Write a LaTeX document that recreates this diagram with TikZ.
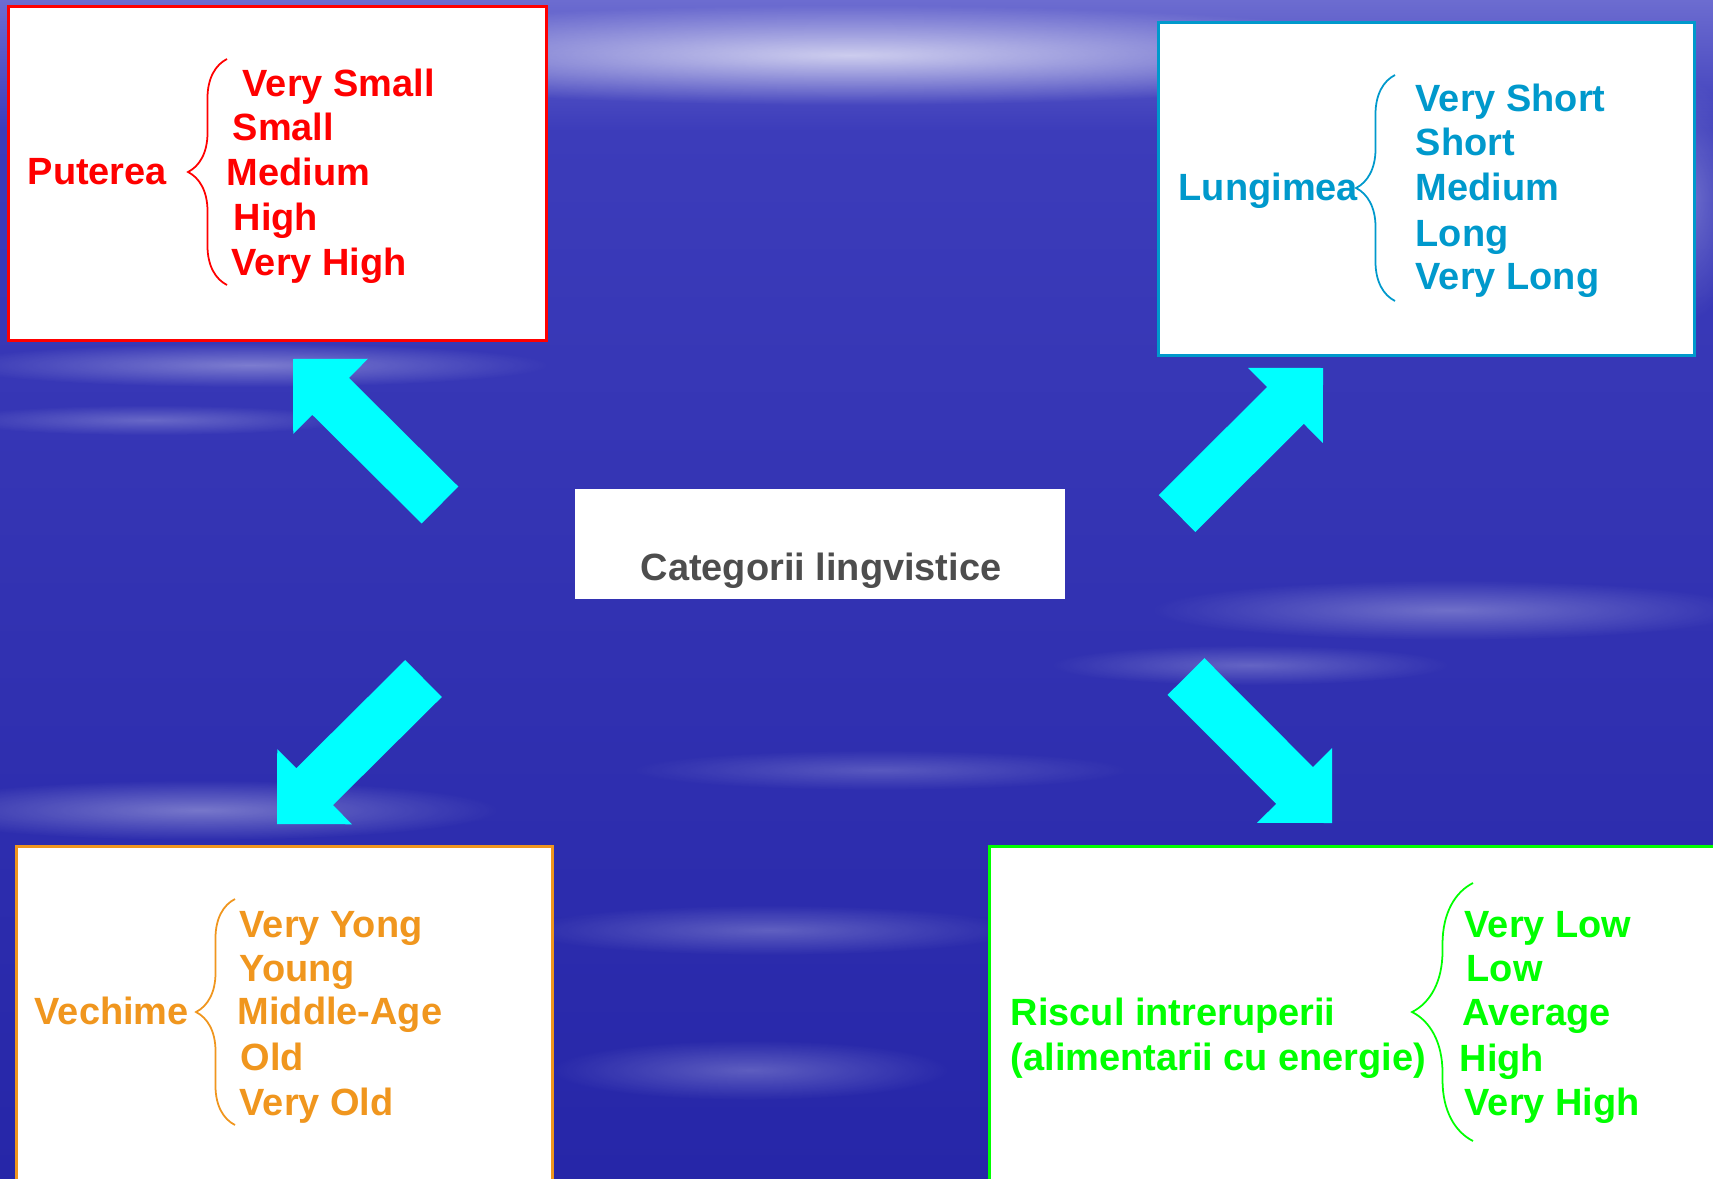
\documentclass[tikz,border=0pt]{standalone}
\usepackage{fontspec}
\setmainfont{Liberation Sans}
\usepackage{tikz}
\usetikzlibrary{calc, decorations.pathreplacing, fadings}
\usepackage{xcolor}
\definecolor{putcol}{RGB}{255,0,0}
\definecolor{lungcol}{RGB}{0,153,204}
\definecolor{vechcol}{RGB}{240,150,30}
\definecolor{riscol}{RGB}{0,255,0}
\definecolor{catgray}{RGB}{77,77,77}
\definecolor{arrowcyan}{RGB}{0,255,255}
\definecolor{bgtop}{RGB}{108,108,208}
\definecolor{bgupper}{RGB}{60,60,186}
\definecolor{bgmid}{RGB}{46,46,176}
\definecolor{bgbot}{RGB}{38,38,168}
\tikzfading[name=softglow, inner color=transparent!0, outer color=transparent!100]

\begin{document}
\begin{tikzpicture}[
    catbox/.style={rectangle, draw, fill=white, line width=0.8pt, anchor=north west, inner sep=0pt},
    term/.style={anchor=base west, inner sep=0pt, font=\fontsize{10.8}{13}\selectfont\bfseries},
    bracket/.style={decorate, line width=0.5pt},
    fatarrow/.style={fill=arrowcyan},
    streak/.style={white, path fading=softglow}
]
    \useasboundingbox (0,0) rectangle (17.13,-11.78);
    \clip (0,0) rectangle (17.13,-11.78);

    % Background
    \shade[top color=bgupper, middle color=bgmid, bottom color=bgbot] (0,-1.3) rectangle (17.13,-11.78);
    \shade[top color=bgtop, bottom color=bgupper] (0,0) rectangle (17.13,-1.31);
    \fill[streak, opacity=0.7] (8.5,-0.55) ellipse (6 and 0.5);
    \fill[streak, opacity=0.25] (16.9,-2.0) ellipse (0.5 and 1.2);
    \fill[streak, opacity=0.35] (2.5,-3.65) ellipse (3 and 0.22);
    \fill[streak, opacity=0.25] (1.5,-4.2) ellipse (2 and 0.15);
    \fill[streak, opacity=0.3] (14.5,-6.1) ellipse (3 and 0.3);
    \fill[streak, opacity=0.25] (12.5,-6.65) ellipse (2 and 0.2);
    \fill[streak, opacity=0.2] (8.8,-7.7) ellipse (2.5 and 0.2);
    \fill[streak, opacity=0.35] (2,-8.1) ellipse (3 and 0.3);
    \fill[streak, opacity=0.25] (7.7,-9.3) ellipse (2.5 and 0.25);
    \fill[streak, opacity=0.25] (7.5,-10.7) ellipse (2 and 0.3);

    % Boxes
    \node[catbox, draw=putcol, minimum width=5.38cm, minimum height=3.34cm] (putbox) at (0.07,-0.05) {};
    \node[catbox, draw=lungcol, minimum width=5.36cm, minimum height=3.33cm] (lungbox) at (11.57,-0.21) {};
    \node[catbox, draw=vechcol, minimum width=5.36cm, minimum height=3.6cm] (vechbox) at (0.15,-8.45) {};
    \node[catbox, draw=riscol, minimum width=7.5cm, minimum height=3.6cm] (riscbox) at (9.88,-8.45) {};
    \node[catbox, draw=none, minimum width=4.90cm, minimum height=1.10cm] (catbox) at (5.74,-4.88) {};

    % Centre title
    \node[term, text=catgray] (cattitle) at (6.40,-5.80) {Categorii lingvistice};

    % Puterea
    \node[term, text=putcol] (putname) at (0.27,-1.84) {Puterea};
    \node[term, text=putcol] (put1) at (2.42,-0.97) {Very Small};
    \node[term, text=putcol] (put2) at (2.32,-1.41) {Small};
    \node[term, text=putcol] (put3) at (2.26,-1.85) {Medium};
    \node[term, text=putcol] (put4) at (2.33,-2.30) {High};
    \node[term, text=putcol] (put5) at (2.31,-2.75) {Very High};
    \draw[bracket, draw=putcol, decoration={brace, amplitude=0.39cm}] (2.27,-2.85) -- (2.27,-0.59);

    % Lungimea
    \node[term, text=lungcol] (lungname) at (11.78,-2.00) {Lungimea};
    \node[term, text=lungcol] (lung1) at (14.15,-1.12) {Very Short};
    \node[term, text=lungcol] (lung2) at (14.15,-1.56) {Short};
    \node[term, text=lungcol] (lung3) at (14.15,-2.00) {Medium};
    \node[term, text=lungcol] (lung4) at (14.15,-2.46) {Long};
    \node[term, text=lungcol] (lung5) at (14.15,-2.89) {Very Long};
    \draw[bracket, draw=lungcol, decoration={brace, amplitude=0.39cm}] (13.95,-3.01) -- (13.95,-0.75);

    % Vechime
    \node[term, text=vechcol] (vechname) at (0.34,-10.24) {Vechime};
    \node[term, text=vechcol] (vech1) at (2.39,-9.37) {Very Yong};
    \node[term, text=vechcol] (vech2) at (2.39,-9.81) {Young};
    \node[term, text=vechcol] (vech3) at (2.37,-10.24) {Middle-Age};
    \node[term, text=vechcol] (vech4) at (2.40,-10.70) {Old};
    \node[term, text=vechcol] (vech5) at (2.39,-11.15) {Very Old};
    \draw[bracket, draw=vechcol, decoration={brace, amplitude=0.39cm}] (2.35,-11.25) -- (2.35,-8.99);

    % Riscul
    \node[term, text=riscol] (riscnameA) at (10.10,-10.25) {Riscul intreruperii};
    \node[term, text=riscol] (riscnameB) at (10.10,-10.70) {(alimentarii cu energie)};
    \node[term, text=riscol] (risc1) at (14.64,-9.37) {Very Low};
    \node[term, text=riscol] (risc2) at (14.66,-9.81) {Low};
    \node[term, text=riscol] (risc3) at (14.615,-10.25) {Average};
    \node[term, text=riscol] (risc4) at (14.59,-10.71) {High};
    \node[term, text=riscol] (risc5) at (14.64,-11.15) {Very High};
    \draw[bracket, draw=riscol, decoration={brace, amplitude=0.61cm}] (14.73,-11.41) -- (14.73,-8.83);

    % Arrows
    \coordinate (nwtail) at (4.40,-5.05);
    \coordinate (nwtip) at (2.93,-3.59);
    \coordinate (netail) at (11.77,-5.135);
    \coordinate (netip) at (13.23,-3.68);
    \coordinate (swtail) at (4.235,-6.785);
    \coordinate (swtip) at (2.77,-8.24);
    \coordinate (setail) at (11.86,-6.765);
    \coordinate (setip) at (13.32,-8.23);
    \foreach \t/\p in {nwtail/nwtip, netail/netip, swtail/swtip, setail/setip}{
        \coordinate (hb) at ($(\p)!0.53cm!(\t)$);
        \fill[fatarrow] ($(\t)!0.26cm!90:(\p)$) -- ($(hb)!0.26cm!90:(\p)$) -- ($(hb)!0.53cm!90:(\p)$)
            -- (\p) -- ($(hb)!0.53cm!-90:(\p)$) -- ($(hb)!0.26cm!-90:(\p)$) -- ($(\t)!0.26cm!-90:(\p)$) -- cycle;
    }

\end{tikzpicture}
\end{document}
